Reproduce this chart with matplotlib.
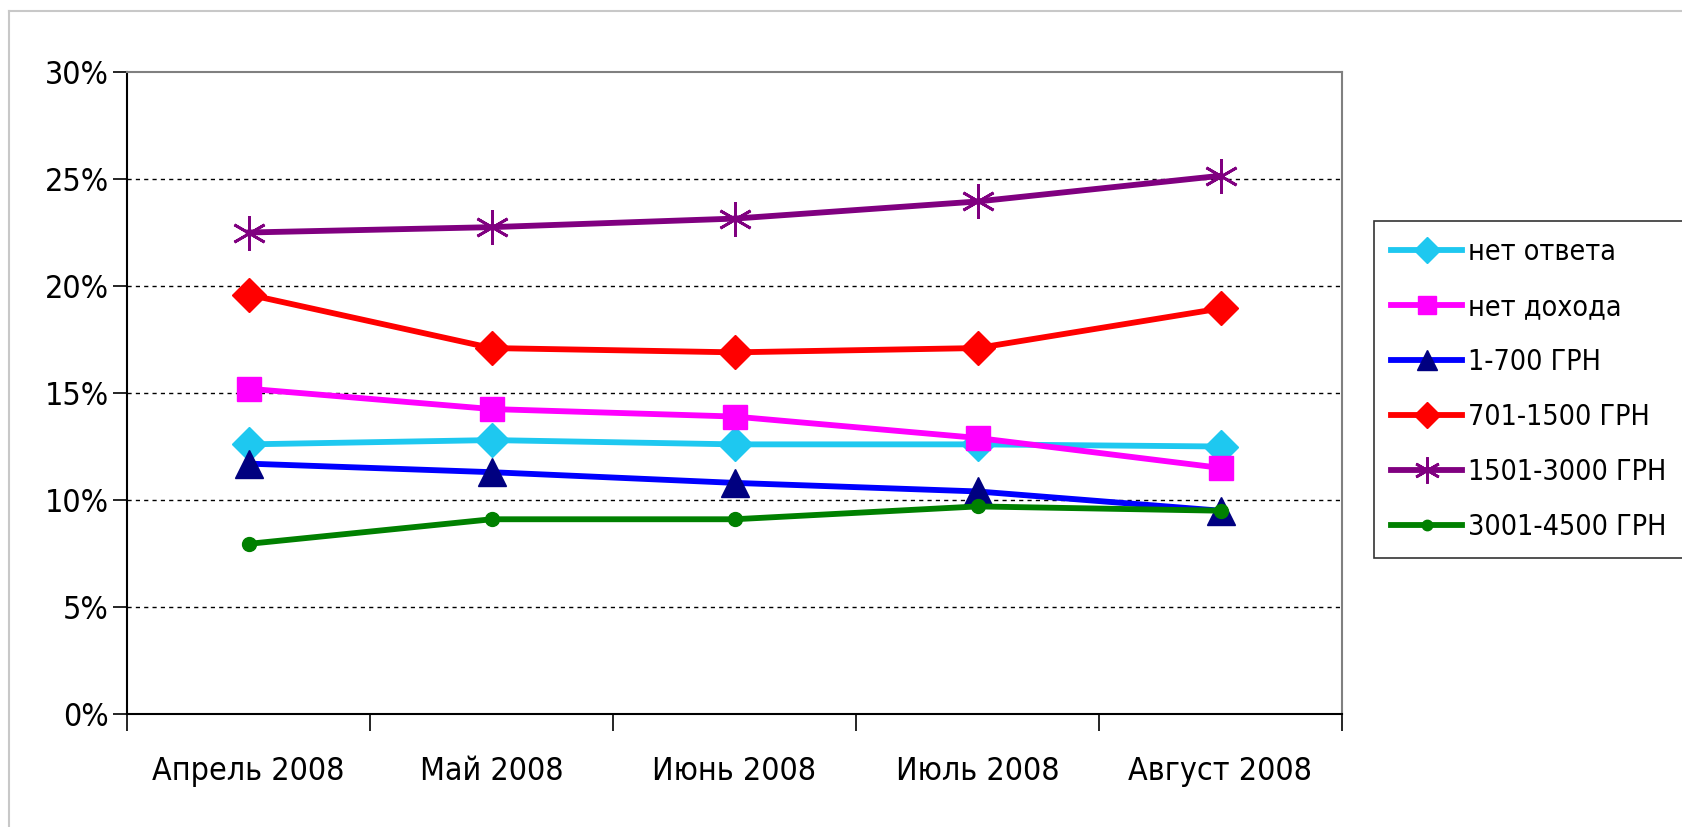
import matplotlib
matplotlib.use("Agg")
import matplotlib.pyplot as plt
from matplotlib.lines import Line2D
import numpy as np

plt.rcParams['font.family'] = ['DejaVu Sans']
plt.rcParams['font.stretch'] = 'condensed'

months = ['Апрель 2008', 'Май 2008', 'Июнь 2008', 'Июль 2008', 'Август 2008']

no_answer = [12.6, 12.8, 12.6, 12.6, 12.5]
no_income = [15.2, 14.25, 13.9, 12.9, 11.5]
g_1_700 = [11.7, 11.3, 10.8, 10.4, 9.5]
g_701_1500 = [19.6, 17.1, 16.9, 17.1, 18.95]
g_1501_3000 = [22.5, 22.75, 23.15, 23.95, 25.15]
g_3001_4500 = [7.95, 9.1, 9.1, 9.7, 9.5]

labels = ['нет ответа', 'нет дохода', '1-700 ГРН', '701-1500 ГРН',
          '1501-3000 ГРН', '3001-4500 ГРН']

W, H = 1683, 827
fig = plt.figure(figsize=(W / 100, H / 100), dpi=100)

# thin frame round the chart area
fig.add_artist(Line2D([9 / W, 9 / W], [0, 1 - 11 / H], transform=fig.transFigure,
                      color='#c8c8c8', lw=1.5))
fig.add_artist(Line2D([9 / W, 1], [1 - 11 / H, 1 - 11 / H], transform=fig.transFigure,
                      color='#c8c8c8', lw=1.5))

ax = fig.add_axes([127 / W, 1 - 714 / H, (1342 - 127) / W, (714 - 72) / H])

x = np.arange(len(months))
lw = 4.2

ax.plot(x, no_answer, color='#1ec8f0', lw=lw, marker='D', ms=17,
        mfc='#1ec8f0', mec='#1ec8f0', label=labels[0], zorder=3)
ax.plot(x, no_income, color='#ff00ff', lw=lw, marker='s', ms=17,
        mfc='#ff00ff', mec='#ff00ff', label=labels[1], zorder=3)
ax.plot(x, g_1_700, color='#0000ff', lw=lw, marker='^', ms=20,
        mfc='#000080', mec='#000080', label=labels[2], zorder=3)
ax.plot(x, g_701_1500, color='#ff0000', lw=lw, marker='D', ms=17,
        mfc='#ff0000', mec='#ff0000', label=labels[3], zorder=3)
ax.plot(x, g_1501_3000, color='#800080', lw=lw, marker=(6, 2, 0), ms=25,
        mew=2.0, mec='#800080', label=labels[4], zorder=3)
ax.plot(x, g_3001_4500, color='#008000', lw=lw, marker='o', ms=10,
        mfc='#008000', mec='#008000', label=labels[5], zorder=3)

ax.set_xlim(-0.5, len(months) - 0.5)
ax.set_ylim(0, 30)

ax.set_yticks(np.arange(0, 31, 5))
ax.set_yticklabels([f'{v}%' for v in range(0, 31, 5)])
for v in range(5, 30, 5):
    ax.axhline(v, color='black', lw=1.0, ls=(0, (3, 3)), zorder=1)

ax.set_xticks(x)
ax.set_xticklabels(months)
ax.set_xticks(np.arange(-0.5, len(months)), minor=True)
ax.tick_params(axis='x', which='major', length=0, pad=30, labelsize=23)
ax.tick_params(axis='x', which='minor', length=12, width=1.2, direction='out')
ax.tick_params(axis='y', length=10, width=1.2, pad=3, labelsize=23)

for s in ['left', 'bottom']:
    ax.spines[s].set_color('black')
    ax.spines[s].set_linewidth(1.5)
for s in ['top', 'right']:
    ax.spines[s].set_color('#808080')
    ax.spines[s].set_linewidth(1.5)

leg = ax.legend(loc='upper left', bbox_to_anchor=(1374 / W, 1 - 221 / H),
                bbox_transform=fig.transFigure, fontsize=20.5, frameon=True,
                fancybox=False, edgecolor='black', handlelength=2.5,
                handletextpad=0.2, labelspacing=0.95, borderpad=0.6,
                borderaxespad=0, markerscale=0.75)
leg.get_frame().set_linewidth(1.2)

fig.savefig('out.png', dpi=100)
